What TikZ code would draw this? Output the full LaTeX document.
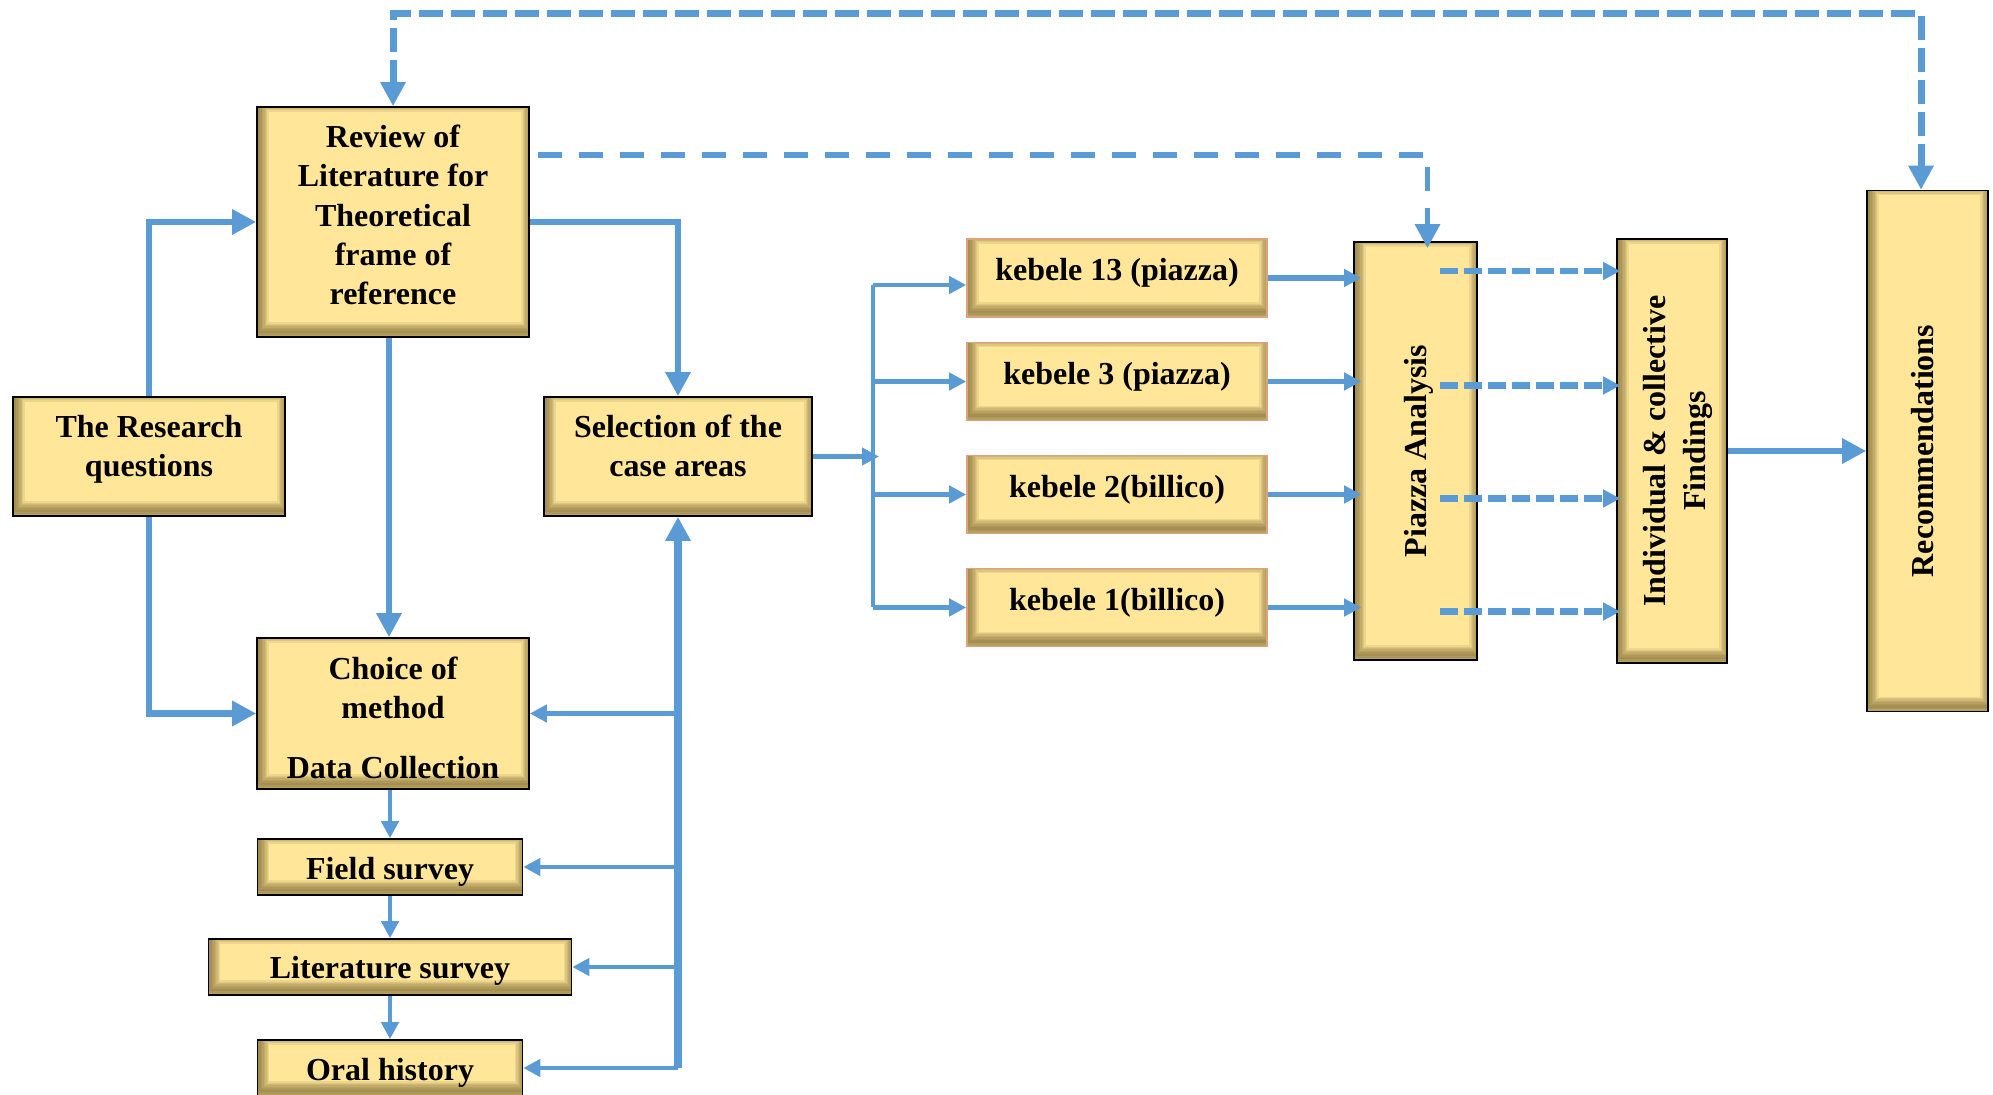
\documentclass[tikz,border=0pt]{standalone}
\usepackage{fontspec}
\setmainfont{Liberation Serif}
\usepackage{graphicx}
\usetikzlibrary{arrows.meta}
\definecolor{lineblue}{HTML}{5B9BD5}
\definecolor{boxfill}{HTML}{FFE699}
\definecolor{shadowc}{HTML}{5E4E1E}
\definecolor{kborder}{HTML}{E0A27C}
\newcommand\mylines[1]{\begin{tabular}{@{}c@{}}#1\end{tabular}}
\newcommand\shiftup[2]{\raisebox{#1}[\height][\depth]{#2}}
\tikzset{
  box/.style={draw=black, line width=0.8pt, fill=boxfill, inner sep=0pt, align=center,
    font=\fontsize{16}{19.7}\selectfont\bfseries,
    path picture={
      \foreach \k [evaluate=\k as \w using \k*1.4] in {1,...,7}{
        \draw[shadowc, opacity=0.11, line width=\w pt]
          ([shift={(1pt,2.5pt)}]path picture bounding box.south west) rectangle
          ([shift={(1pt,2.5pt)}]path picture bounding box.north east);
      }
    }},
  kbox/.style={box, draw=kborder, minimum width=150pt, minimum height=39pt},
  big/.style={-{Triangle[length=12pt,width=12pt]}},
  small/.style={-{Triangle[length=8.5pt,width=8.5pt]}},
  conn/.style={draw=lineblue, line width=3.3pt},
  connmid/.style={draw=lineblue, line width=2.7pt},
  connthin/.style={draw=lineblue, line width=2.4pt},
  dashA/.style={draw=lineblue, line width=3.5pt, dash pattern=on 12pt off 4pt},
  dashB/.style={draw=lineblue, line width=2.9pt, dash pattern=on 12pt off 8.5pt},
  dashC/.style={draw=lineblue, line width=3.2pt, dash pattern=on 9pt off 3pt},
}
\begin{document}
\begin{tikzpicture}[x=0.5pt,y=-0.5pt]
\useasboundingbox (0,0) rectangle (1993,1095);
\clip (0,0) rectangle (1993,1095);
\fill[white] (0,0) rectangle (1993,1095);

% left part
\node[box, minimum width=136pt, minimum height=115pt] (rev) at (393,222)
  {\shiftup{1.9pt}{\mylines{Review of\\Literature for\\Theoretical\\frame of\\reference}}};
\node[box, minimum width=136pt, minimum height=59.5pt] (res) at (149,456.5)
  {\shiftup{3.8pt}{\mylines{The Research\\questions}}};
\node[box, minimum width=134pt, minimum height=59.5pt] (sel) at (678,456.5)
  {\shiftup{3.8pt}{\mylines{Selection of the\\case areas}}};
\node[box, minimum width=136pt, minimum height=75.5pt] (cho) at (393,713.5)
  {\shiftup{-3.8pt}{\mylines{Choice of\\method\\[10pt]Data Collection}}};
\node[box, minimum width=132.5pt, minimum height=28pt] (fld) at (390,867) {\shiftup{-2.2pt}{Field survey}};
\node[box, minimum width=181.5pt, minimum height=28pt] (lit) at (390,967) {\shiftup{-2pt}{Literature survey}};
\node[box, minimum width=132.5pt, minimum height=28pt] (ora) at (390,1068) {\shiftup{-2.2pt}{Oral history}};

% kebeles
\node[kbox] (k13) at (1117,278) {\shiftup{2.5pt}{kebele 13 (piazza)}};
\node[kbox] (k3) at (1117,381.5) {\shiftup{2.5pt}{kebele 3 (piazza)}};
\node[kbox] (k2) at (1117,494.5) {\shiftup{2.5pt}{kebele 2(billico)}};
\node[kbox] (k1) at (1117,607.5) {\shiftup{2.5pt}{kebele 1(billico)}};

% right part
\node[box, minimum width=61.5pt, minimum height=209pt] (pia) at (1415.5,451)
  {\rotatebox{90}{\shiftup{-1.9pt}{Piazza Analysis}}};
\node[box, minimum width=55pt, minimum height=212pt] (ind) at (1672,451)
  {\rotatebox{90}{\shiftup{-2.9pt}{\mylines{Individual \& collective\\Findings}}}};
\node[box, minimum width=60.5pt, minimum height=260.5pt] (rec) at (1927.5,451)
  {\rotatebox{90}{\shiftup{2.5pt}{Recommendations}}};

% thick connectors
\draw[conn, big] (res.north) |- (rev.west);
\draw[conn, big] (rev.east) -| (sel.north);
\draw[conn, big] ([xshift=-2pt]rev.south) -- ([xshift=-2pt]cho.north);
\draw[conn, big] (res.south) |- (cho.west);

% bus to the left boxes
\coordinate (busL) at (sel.south |- ora.east);
\draw[conn, big, line width=3.6pt] (busL) -- (sel.south);
\draw[connthin, small] (busL |- cho.east) -- (cho.east);
\draw[connthin, small] (busL |- fld.east) -- (fld.east);
\draw[connthin, small] (busL |- lit.east) -- (lit.east);
\draw[connthin, small] (busL) -- (ora.east);

% chain
\draw[connthin, small] (fld.north |- cho.south) -- (fld.north);
\draw[connthin, small] (fld.south) -- (lit.north);
\draw[connthin, small] (lit.south) -- (ora.north);

% selection to kebeles
\coordinate (busR) at (873,456.5);
\coordinate (kt) at ([yshift=-3.5pt]k13.west);
\draw[connthin, small, shorten >=-3pt] (sel.east) -- (busR);
\draw[connthin, line width=2.2pt] (busR |- kt) -- (busR |- k1.west);
\draw[connthin, line width=2.2pt, small] (busR |- kt) -- (kt);
\draw[connthin, line width=2.2pt, small] (busR |- k3.west) -- (k3.west);
\draw[connthin, line width=2.2pt, small] (busR |- k2.west) -- (k2.west);
\draw[connthin, line width=2.2pt, small] (busR |- k1.west) -- (k1.west);

% kebeles to piazza
\foreach \n in {k13,k3,k2,k1}{
  \draw[connmid, small, shorten >=-4pt] (\n.east) -- (\n.east -| pia.west);
}

% piazza to individual (dashed)
\coordinate (xP) at (1440,0);
\coordinate (d1) at ([yshift=3.5pt]k13.east);
\coordinate (d2) at ([yshift=-2pt]k3.east);
\coordinate (d3) at ([yshift=-2pt]k2.east);
\coordinate (d4) at ([yshift=-2pt]k1.east);
\foreach \d in {d1,d2,d3,d4}{
  \draw[dashC, small, shorten >=-2pt] (\d -| xP) -- (\d -| ind.west);
}

% individual to recommendations
\draw[conn, big] (ind.east) -- (rec.west);

% long dashed feedback
\coordinate (tl) at (393,14);
\coordinate (tr) at (1921,14);
\draw[dashA, {Triangle[length=12pt,width=12pt]}-{Triangle[length=12pt,width=12pt]}]
  (rev.north) -- (tl) -- (tr) -- (tr |- rec.north);

% review to piazza dashed
\coordinate (dl) at (537,155);
\draw[dashB, big, shorten <=4pt, shorten >=-3.5pt] (rev.east |- dl) -| ([xshift=6pt]pia.north);
\end{tikzpicture}
\end{document}
